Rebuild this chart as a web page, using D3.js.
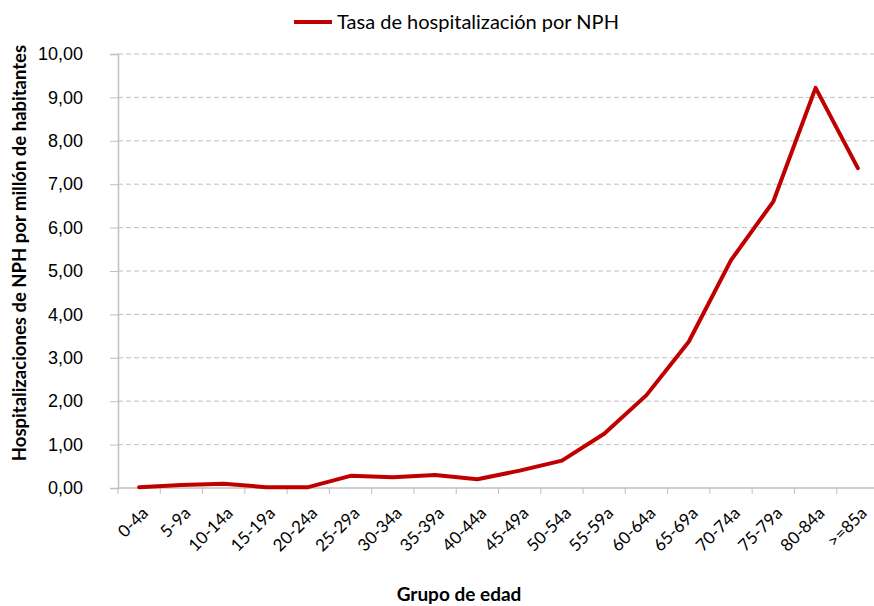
<!DOCTYPE html>
<html><head><meta charset="utf-8">
<script src="https://cdn.jsdelivr.net/npm/d3@7"></script>
<style>body{margin:0;background:#fff}svg{display:block;font-family:Lato,"Open Sans",sans-serif}</style>
</head><body><svg id="c" width="874" height="606"></svg>
<script>
const categories = ["0-4a","5-9a","10-14a","15-19a","20-24a","25-29a","30-34a","35-39a","40-44a","45-49a","50-54a","55-59a","60-64a","65-69a","70-74a","75-79a","80-84a",">=85a"];
const values = [0.02,0.07,0.10,0.02,0.02,0.28,0.25,0.30,0.20,0.40,0.63,1.25,2.14,3.37,5.25,6.60,9.22,7.37];
const yTicks = [0,1,2,3,4,5,6,7,8,9,10];
const seriesName = "Tasa de hospitalización por NPH";

const svg = d3.select("#c");
const L = 118, R = 879, T = 54, B = 488;
const x = d3.scaleBand().domain(categories).range([L, R]);
const y = d3.scaleLinear().domain([0, 10]).range([B, T]);
const fmt = v => d3.format(".2f")(v).replace(".", ",");
const grey = "#bfbfbf";

// gridlines
svg.append("g").selectAll("line").data(yTicks.filter(d => d > 0)).join("line")
  .attr("x1", L).attr("x2", R).attr("y1", d => y(d)).attr("y2", d => y(d))
  .attr("stroke", grey).attr("stroke-width", 1).attr("stroke-dasharray", "5,3");

// y axis
const ya = svg.append("g").attr("transform", `translate(${L},0)`)
  .call(d3.axisLeft(y).tickValues(yTicks).tickFormat(fmt).tickSize(8).tickPadding(27));
ya.select(".domain").attr("stroke", grey).attr("stroke-width", 1.5);
ya.selectAll(".tick line").attr("stroke", grey);
ya.selectAll("text").attr("font-size", 18).attr("fill", "#000");

// x axis
const xa = svg.append("g").attr("transform", `translate(0,${B})`);
xa.append("line").attr("x1", L).attr("x2", R).attr("stroke", grey).attr("stroke-width", 1.5);
xa.selectAll(".tk").data(d3.range(categories.length + 1)).join("line")
  .attr("x1", i => L + i * x.bandwidth()).attr("x2", i => L + i * x.bandwidth())
  .attr("y1", 0).attr("y2", 6).attr("stroke", grey);
xa.selectAll("text").data(categories).join("text")
  .attr("transform", d => `translate(${x(d) + x.bandwidth() / 2 + 6},${22}) rotate(-45)`)
  .attr("text-anchor", "end").attr("font-size", 17).attr("fill", "#000")
  .attr("dy", "0.35em").text(d => d);

// line
const line = d3.line().x((d, i) => x(categories[i]) + x.bandwidth() / 2).y(d => y(d));
svg.append("path").datum(values).attr("d", line)
  .attr("fill", "none").attr("stroke", "#c00000").attr("stroke-width", 4)
  .attr("stroke-linejoin", "round").attr("stroke-linecap", "round");

// axis titles
svg.append("text").attr("transform", "translate(26,253) rotate(-90)")
  .attr("text-anchor", "middle").attr("font-size", 18.5).attr("font-weight", "bold")
  .attr("fill", "#000").text("Hospitalizaciones de NPH por millón de habitantes");
svg.append("text").attr("x", 459).attr("y", 601).attr("text-anchor", "middle")
  .attr("font-size", 19).attr("font-weight", "bold").attr("fill", "#000").text("Grupo de edad");

// legend
svg.append("line").attr("x1", 294).attr("x2", 332).attr("y1", 22).attr("y2", 22)
  .attr("stroke", "#c00000").attr("stroke-width", 4);
svg.append("text").attr("x", 337).attr("y", 29).attr("font-size", 20).attr("fill", "#000").text(seriesName);
</script></body></html>
